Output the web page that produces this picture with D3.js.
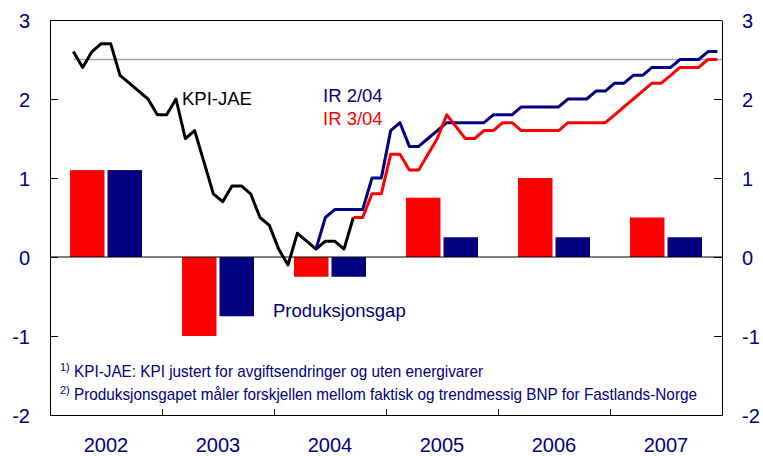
<!DOCTYPE html>
<html>
<head>
<meta charset="utf-8">
<script src="https://cdn.jsdelivr.net/npm/d3@7"></script>
<style>
  html, body { margin: 0; padding: 0; background: #fff; }
  svg { display: block; font-family: "Liberation Sans", Arial, sans-serif; }
  .axis path, .axis line { stroke: #000; stroke-width: 1; }
  .axis text { fill: #000080; font-size: 20px; }
  .note { fill: #000080; font-family: "Liberation Sans Narrow", "Arial Narrow", "Liberation Sans", sans-serif; }
</style>
</head>
<body>
<div id="chart"></div>
<script>
// Årstall (søyler) og produksjonsgap, IR 3/04 (rød) og IR 2/04 (blå)
var years = ["2002", "2003", "2004", "2005", "2006", "2007"];
var gapIR304 = [1.1, -1.0, -0.25, 0.75, 1.0, 0.5];
var gapIR204 = [1.1, -0.75, -0.25, 0.25, 0.25, 0.25];

// Månedlige serier; startmåned = måneder etter januar 2002
var kpiStart = 2;   // mars 2002
var kpiJae = [2.6, 2.4, 2.6, 2.7, 2.7, 2.3, 2.2, 2.1, 2.0, 1.8, 1.8, 2.0, 1.5, 1.6, 1.2,
  0.8, 0.7, 0.9, 0.9, 0.8, 0.5, 0.4, 0.1, -0.1, 0.3, 0.2, 0.1, 0.2, 0.2, 0.1, 0.5];
var ir204Start = 28; // mai 2004
var ir204 = [0.1, 0.5, 0.6, 0.6, 0.6, 0.6, 1.0, 1.0, 1.6, 1.7, 1.4, 1.4, 1.5, 1.6, 1.7,
  1.7, 1.7, 1.7, 1.7, 1.8, 1.8, 1.8, 1.9, 1.9, 1.9, 1.9, 1.9, 2.0, 2.0, 2.0, 2.1, 2.1,
  2.2, 2.2, 2.3, 2.3, 2.4, 2.4, 2.4, 2.5, 2.5, 2.5, 2.6, 2.6];
var ir304Start = 32; // september 2004
var ir304 = [0.5, 0.5, 0.8, 0.8, 1.3, 1.3, 1.1, 1.1, 1.3, 1.5, 1.8, 1.65, 1.5, 1.5, 1.6,
  1.6, 1.7, 1.7, 1.6, 1.6, 1.6, 1.6, 1.6, 1.7, 1.7, 1.7, 1.7, 1.7, 1.8, 1.9, 2.0, 2.1,
  2.2, 2.2, 2.3, 2.4, 2.4, 2.4, 2.5, 2.5];
var target = 2.5;
var yTicks = [-2, -1, 0, 1, 2, 3];
var notes = [
  ["1)", "KPI-JAE: KPI justert for avgiftsendringer og uten energivarer"],
  ["2)", "Produksjonsgapet måler forskjellen mellom faktisk og trendmessig BNP for Fastlands-Norge"]
];
var noteWidths = [409, 623];

var W = 763, H = 456;
var L = 50, R = 722, T = 20, B = 415;

var svg = d3.select("#chart").append("svg").attr("width", W).attr("height", H);

var y = d3.scaleLinear().domain([-2, 3]).range([B, T]);
var xm = d3.scaleLinear().domain([0, 72]).range([L, R]);           // months since Jan 2002
var xb = d3.scaleBand().domain(years).range([L, R]).paddingInner(0.357).paddingOuter(0.1785);
var xs = d3.scaleBand().domain(["ir304", "ir204"]).range([0, xb.bandwidth()]).paddingInner(0.08);
var colors = { ir304: "#ff0000", ir204: "#000080" };

// target line 2.5
svg.append("line")
  .attr("x1", xm(kpiStart + 0.5)).attr("x2", R)
  .attr("y1", y(target)).attr("y2", y(target))
  .attr("stroke", "#a6a6a6").attr("stroke-width", 1.5);

// bars
var barData = [];
years.forEach(function (yr, i) {
  barData.push({ year: yr, key: "ir304", v: gapIR304[i] });
  barData.push({ year: yr, key: "ir204", v: gapIR204[i] });
});
svg.append("g").selectAll("rect").data(barData).join("rect")
  .attr("x", function (d) { return xb(d.year) + xs(d.key); })
  .attr("width", xs.bandwidth())
  .attr("y", function (d) { return y(Math.max(0, d.v)); })
  .attr("height", function (d) { return Math.abs(y(d.v) - y(0)); })
  .attr("fill", function (d) { return colors[d.key]; });

// axes
svg.append("g").attr("class", "axis").attr("transform", "translate(" + L + ",0)")
  .call(d3.axisLeft(y).tickValues(yTicks).tickSizeInner(-8).tickSizeOuter(0).tickPadding(20).tickFormat(String))
  .call(function (g) { g.selectAll("text").attr("dy", "0.35em"); });
svg.append("g").attr("class", "axis").attr("transform", "translate(" + R + ",0)")
  .call(d3.axisRight(y).tickValues(yTicks).tickSizeInner(-8).tickSizeOuter(0).tickPadding(20).tickFormat(String))
  .call(function (g) { g.selectAll("text").attr("dy", "0.35em"); });
svg.append("g").attr("class", "axis").attr("transform", "translate(0," + B + ")")
  .call(d3.axisBottom(xm).tickValues([12, 24, 36, 48, 60]).tickSizeInner(-6).tickSizeOuter(0).tickFormat(""));
svg.append("line").attr("x1", L).attr("x2", R).attr("y1", T + 0.5).attr("y2", T + 0.5)
  .attr("stroke", "#000").attr("stroke-width", 1);
svg.append("line").attr("x1", L).attr("x2", R).attr("y1", y(0)).attr("y2", y(0))
  .attr("stroke", "#000").attr("stroke-width", 1);

// year labels
svg.append("g").selectAll("text").data(years).join("text")
  .attr("x", function (d) { return xb(d) + xb.bandwidth() / 2; })
  .attr("y", 452)
  .attr("text-anchor", "middle")
  .attr("fill", "#000080").attr("font-size", 20)
  .text(function (d) { return d; });

// lines
function series(vals, start) {
  return vals.map(function (v, i) { return { m: start + i, v: v }; });
}
var line = d3.line().x(function (d) { return xm(d.m + 0.5); }).y(function (d) { return y(d.v); });
[[kpiJae, kpiStart, "#000"], [ir204, ir204Start, "#000080"], [ir304, ir304Start, "#ff0000"]].forEach(function (s) {
  svg.append("path").datum(series(s[0], s[1]))
    .attr("d", line).attr("fill", "none")
    .attr("stroke", s[2]).attr("stroke-width", 3)
    .attr("stroke-linejoin", "round");
});

// labels
function label(txt, x0, y0, col) {
  svg.append("text").attr("x", x0).attr("y", y0).attr("fill", col).attr("font-size", 18.5).text(txt);
}
label("KPI-JAE", 182, 105, "#000");
label("IR 2/04", 323, 102, "#000080");
label("IR 3/04", 323, 125, "#ff0000");
label("Produksjonsgap", 273, 317, "#000080");

// footnotes (narrow face squeezed to the reference width)
notes.forEach(function (n, i) {
  var by = 377 + i * 23;
  svg.append("text").attr("class", "note").attr("x", 60).attr("y", by - 6).attr("font-size", 11).text(n[0]);
  svg.append("text").attr("class", "note").attr("x", 74).attr("y", by).attr("font-size", 17)
    .attr("textLength", noteWidths[i]).attr("lengthAdjust", "spacingAndGlyphs").text(n[1]);
});
</script>
</body>
</html>
